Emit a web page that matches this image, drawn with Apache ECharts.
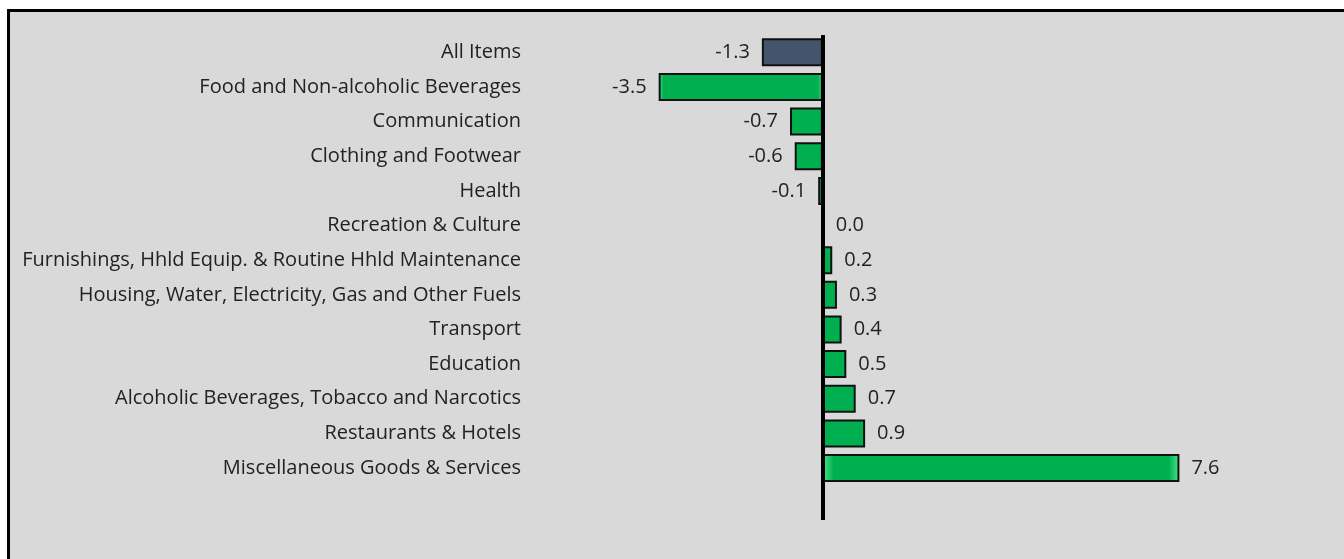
<!DOCTYPE html>
<html>
<head>
<meta charset="utf-8">
<script src="https://cdn.jsdelivr.net/npm/echarts@6/dist/echarts.min.js"></script>
<style>
    html, body { margin: 0; padding: 0; background: #fff; overflow: hidden; }
    #frame {
        position: absolute; left: 7px; top: 9px; width: 1345px; height: 560px;
        background: #d9d9d9; border-left: 3px solid #000; border-top: 3px solid #000;
    }
    #chartBox { position: absolute; left: 0; top: 0; width: 1344px; height: 559px; }
</style>
</head>
<body>
<div id="frame"></div>
<div id="chartBox"></div>
<script>
// categories top to bottom (last one empty, just extends the zero line)
var categories = [
    'All Items',
    'Food and Non-alcoholic Beverages',
    'Communication',
    'Clothing and Footwear',
    'Health',
    'Recreation & Culture',
    'Furnishings, Hhld Equip. & Routine Hhld Maintenance',
    'Housing, Water, Electricity, Gas and Other Fuels',
    'Transport',
    'Education',
    'Alcoholic Beverages, Tobacco and Narcotics',
    'Restaurants & Hotels',
    'Miscellaneous Goods & Services',
    ''
];
var values = [-1.3, -3.5, -0.7, -0.6, -0.1, 0.0, 0.2, 0.3, 0.4, 0.5, 0.7, 0.9, 7.6, null];

function bevel(base, light) {
    return new echarts.graphic.LinearGradient(0, 0, 1, 0, [
        { offset: 0, color: light },
        { offset: 0.03, color: base },
        { offset: 0.97, color: base },
        { offset: 1, color: light }
    ]);
}

var chart = echarts.init(document.getElementById('chartBox'));

var option = {
    backgroundColor: 'transparent',
    animation: false,
    textStyle: { fontFamily: 'Open Sans' },
    grid: {
        left: 532,
        right: 52,
        top: 35,
        bottom: 39
    },
    xAxis: {
        type: 'value',
        min: -6.2,
        max: 10,
        show: false
    },
    yAxis: {
        type: 'category',
        inverse: true,
        data: categories,
        axisLine: { show: false, onZero: false },
        axisTick: { show: false },
        axisLabel: {
            margin: 11,
            fontSize: 20,
            color: '#222',
            fontFamily: 'Open Sans'
        }
    },
    series: [
        {
            type: 'bar',
            barWidth: 28,
            data: values.map(function (v, i) {
                if (v === null) return null;
                return {
                    value: v,
                    itemStyle: {
                        color: i === 0 ? bevel('#44546a', '#7d8ea6') : bevel('#00b050', '#4be58b'),
                        borderColor: '#111',
                        borderWidth: 2
                    },
                    label: {
                        show: true,
                        position: v < 0 ? 'left' : 'right',
                        distance: 12,
                        fontSize: 20,
                        color: '#222',
                        formatter: function (p) { return p.value.toFixed(1); }
                    }
                };
            }),
            markLine: {
                silent: true,
                symbol: 'none',
                label: { show: false },
                lineStyle: { color: '#000', width: 4, type: 'solid' },
                data: [{ xAxis: 0 }]
            }
        }
    ]
};

chart.setOption(option);
</script>
</body>
</html>
